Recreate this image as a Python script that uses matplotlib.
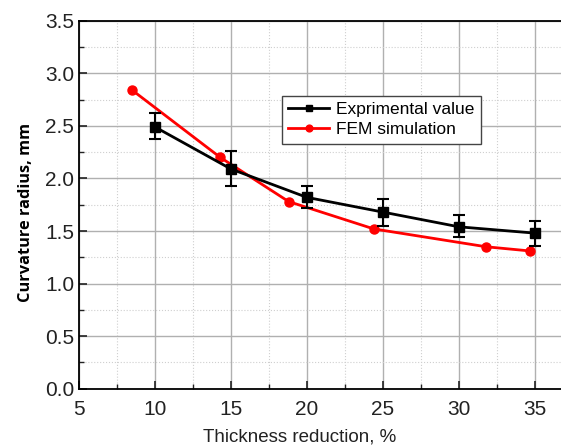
import matplotlib.pyplot as plt
from matplotlib.ticker import MultipleLocator

exp_x = [10, 15, 20, 25, 30, 35]
exp_y = [2.49, 2.09, 1.82, 1.68, 1.54, 1.48]
exp_lo = [2.38, 1.93, 1.72, 1.55, 1.44, 1.36]
exp_hi = [2.62, 2.26, 1.93, 1.80, 1.65, 1.60]

# FEM simulation points
fem_x = [8.5, 14.3, 18.8, 24.4, 31.8, 34.7]
fem_y = [2.84, 2.20, 1.78, 1.52, 1.35, 1.31]

plt.rcParams["font.family"] = ["Liberation Sans", "DejaVu Sans"]

fig = plt.figure(figsize=(5.61, 4.48), dpi=100)
ax = fig.add_axes([0.1408, 0.1324, 0.948, 0.8212])

yerr = [[m - lo for m, lo in zip(exp_y, exp_lo)],
        [hi - m for m, hi in zip(exp_y, exp_hi)]]
ax.errorbar(exp_x, exp_y, yerr=yerr, fmt="none", ecolor="black",
            capsize=4, elinewidth=1.5, capthick=1.5, zorder=4)
ax.plot(exp_x, exp_y, color="black", marker="s", ms=6.5, lw=2,
        label="Exprimental value", zorder=4)
ax.plot(fem_x, fem_y, color="red", marker="o", ms=6.5, lw=2,
        label="FEM simulation", zorder=3)

ax.set_xlim(5, 40)
ax.set_ylim(0, 3.5)
ax.xaxis.set_major_locator(MultipleLocator(5))
ax.xaxis.set_minor_locator(MultipleLocator(2.5))
ax.yaxis.set_major_locator(MultipleLocator(0.5))
ax.yaxis.set_minor_locator(MultipleLocator(0.25))
ax.set_xticks([5, 10, 15, 20, 25, 30, 35])

ax.grid(True, which="major", color="#b0b0b0", lw=1.0)
ax.grid(True, which="minor", color="#cfcfcf", lw=0.8, ls=":")
ax.set_axisbelow(True)

ax.tick_params(which="both", direction="in", top=False, right=False,
               labelsize=15, colors="#222222")
ax.tick_params(which="major", length=6, width=1.2)
ax.tick_params(which="minor", length=3.5, width=1.0)
ax.tick_params(axis="x", pad=8)
for side in ["left", "bottom", "top"]:
    ax.spines[side].set_linewidth(1.3)
ax.spines["right"].set_visible(False)

ax.set_xlabel("Thickness reduction, %", fontsize=13.5, color="#222222")
ax.xaxis.set_label_coords(0.415, -0.108)
ax.xaxis.label.set_verticalalignment("top")
ax.set_ylabel("Curvature radius, mm", fontsize=11.8, fontweight="bold",
              family=["Open Sans", "DejaVu Sans"])
ax.yaxis.set_label_coords(-0.084, 0.48)

leg = ax.legend(loc="upper left", bbox_to_anchor=(0.381, 0.796),
                fontsize=12.5, frameon=True, fancybox=False,
                edgecolor="#444444", handlelength=2.4, handletextpad=0.4,
                borderpad=0.35, labelspacing=0.3, borderaxespad=0,
                markerscale=0.75)
leg.get_frame().set_linewidth(1.0)
leg.get_frame().set_alpha(1)

fig.savefig("out.png", dpi=100)
plt.close(fig)
